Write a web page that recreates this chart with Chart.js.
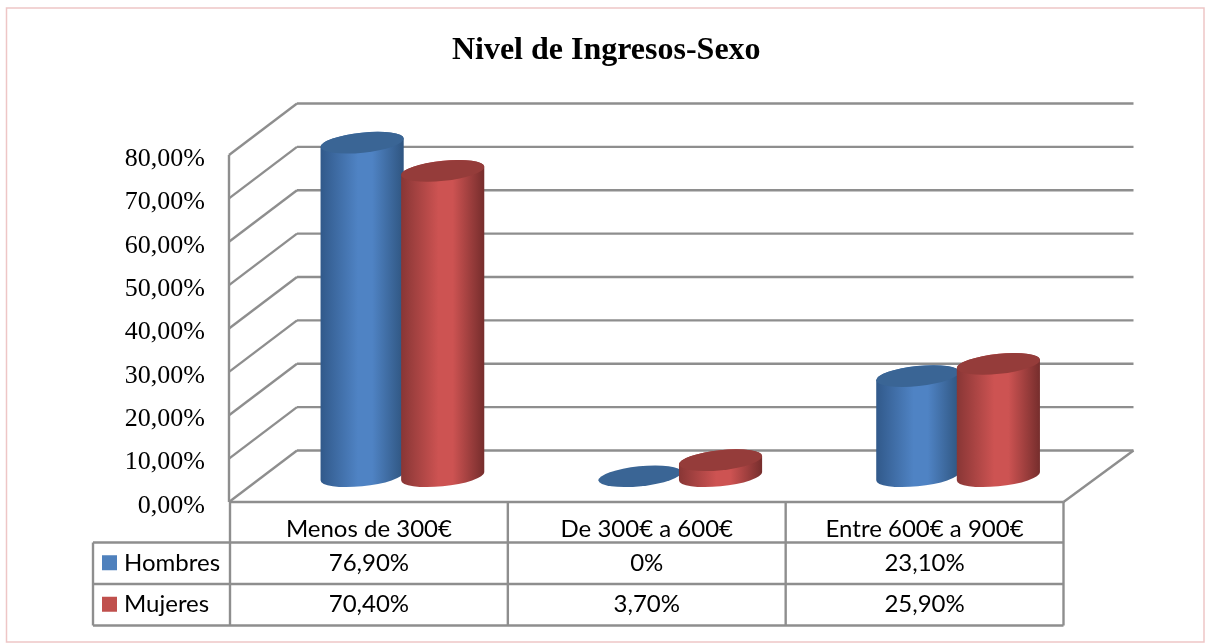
<!DOCTYPE html>
<html lang="es">
<head>
<meta charset="utf-8">
<title>Nivel de Ingresos-Sexo</title>
<script src="https://cdn.jsdelivr.net/npm/chart.js@4/dist/chart.umd.js"></script>
<style>
  html, body { margin: 0; padding: 0; background: #fff; }
  canvas { display: block; }
</style>
</head>
<body>
<canvas id="ingresos" width="1205" height="643"></canvas>
<script>
const categories = ['Menos de 300€', 'De 300€ a 600€', 'Entre 600€ a 900€'];
const hombres = [76.9, 0, 23.1];
const mujeres = [70.4, 3.7, 25.9];
const yTicks = [0, 10, 20, 30, 40, 50, 60, 70, 80];

const serifFont = '"Liberation Serif", serif';
const tableFont = 'Lato, sans-serif';
const gridColor = '#8e8e8e';

// depth of the fake 3d box, cylinders stand halfway in
const depthX = 67;
const depthY = 51.5;

// colours for the cylinders: [edge left, light, edge right, top, legend]
const shades = [
  ['#31598a', '#4f83c4', '#2f5580', '#3a6595', '#4f81bd'],
  ['#883635', '#cd5352', '#752d2c', '#953c3a', '#c0504d'],
];

function percent(v) {
  return v.toFixed(2).replace('.', ',') + '%';
}
function tablePercent(v) {
  return v === 0 ? '0%' : percent(v);
}

function line(ctx, x1, y1, x2, y2) {
  ctx.beginPath();
  ctx.moveTo(x1, y1);
  ctx.lineTo(x2, y2);
  ctx.stroke();
}

function drawCylinder(ctx, cx, top, base, halfW, colors) {
  const ry = 10;
  const rot = -6 * Math.PI / 180;
  // angle where the tilted ellipse touches its left/right extreme
  const t0 = Math.atan2(-ry * Math.sin(rot), halfW * Math.cos(rot));

  if (base - top > 0.5) {
    const grad = ctx.createLinearGradient(cx - halfW, 0, cx + halfW, 0);
    grad.addColorStop(0, colors[0]);
    grad.addColorStop(0.45, colors[1]);
    grad.addColorStop(0.62, colors[1]);
    grad.addColorStop(1, colors[2]);
    ctx.fillStyle = grad;
    ctx.beginPath();
    ctx.ellipse(cx, base, halfW, ry, rot, t0, t0 + Math.PI, false);
    ctx.ellipse(cx, top, halfW, ry, rot, t0 + Math.PI, t0 + 2 * Math.PI, false);
    ctx.closePath();
    ctx.fill();
  }
  ctx.fillStyle = colors[3];
  ctx.beginPath();
  ctx.ellipse(cx, top, halfW, ry, rot, 0, 2 * Math.PI);
  ctx.fill();
}

const boxPlugin = {
  id: 'box',
  afterLayout(chart) {
    // the y labels need a wide scale, keep the title centred on the card anyway
    chart.titleBlock.left += 30;
  },
  beforeDraw(chart) {
    const ctx = chart.ctx;
    ctx.save();
    ctx.strokeStyle = '#eec6c6';
    ctx.lineWidth = 1.5;
    ctx.strokeRect(6.5, 8, 1197.5, 634);
    ctx.restore();
  },
  beforeDatasetsDraw(chart) {
    const ctx = chart.ctx;
    const area = chart.chartArea;
    const y = chart.scales.y;
    ctx.save();
    ctx.strokeStyle = gridColor;
    ctx.lineWidth = 2.4;
    yTicks.forEach(t => {
      const py = y.getPixelForValue(t);
      line(ctx, area.left - 1, py, area.left + depthX, py - depthY);
      line(ctx, area.left + depthX, py - depthY, area.right + depthX + 3, py - depthY);
    });
    line(ctx, area.left - 1, y.getPixelForValue(80), area.left - 1, area.bottom);
    line(ctx, area.right, area.bottom, area.right + depthX + 3, area.bottom - depthY);
    ctx.restore();
  },
  afterDatasetsDraw(chart) {
    const ctx = chart.ctx;
    ctx.save();
    chart.data.datasets.forEach((ds, i) => {
      chart.getDatasetMeta(i).data.forEach(bar => {
        drawCylinder(ctx, bar.x + depthX / 2, bar.y - depthY / 2, bar.base - depthY / 2, bar.width / 2 + 1.5, shades[i]);
      });
    });
    ctx.restore();
  },
  afterDraw(chart) {
    const ctx = chart.ctx;
    const area = chart.chartArea;
    const x = chart.scales.x;
    const rows = [542.5, 584, 625.5];
    const tableLeft = 93;

    ctx.save();
    ctx.strokeStyle = gridColor;
    ctx.lineWidth = 2.4;
    line(ctx, area.left, area.bottom, area.right, area.bottom);
    rows.forEach(r => line(ctx, tableLeft, r, area.right, r));
    line(ctx, tableLeft, rows[0], tableLeft, rows[2]);
    const cols = [area.left];
    categories.forEach((c, i) => cols.push(x.getPixelForValue(i) + (area.right - area.left) / categories.length / 2));
    cols.forEach(c => line(ctx, c, area.bottom, c, rows[2]));

    ctx.font = '24px ' + tableFont;
    ctx.textBaseline = 'middle';
    chart.data.datasets.forEach((ds, i) => {
      const rowMid = (rows[i] + rows[i + 1]) / 2;
      ctx.fillStyle = shades[i][4];
      ctx.fillRect(102, rowMid - 8, 15, 15);
      ctx.fillStyle = '#000';
      ctx.textAlign = 'left';
      ctx.fillText(ds.label, 124, rowMid);
      ctx.textAlign = 'center';
      ds.data.forEach((v, j) => ctx.fillText(tablePercent(v), x.getPixelForValue(j), rowMid));
    });
    ctx.restore();
  },
};

new Chart(document.getElementById('ingresos'), {
  type: 'bar',
  data: {
    labels: categories,
    datasets: [
      { label: 'Hombres', data: hombres, backgroundColor: 'transparent' },
      { label: 'Mujeres', data: mujeres, backgroundColor: 'transparent' },
    ],
  },
  plugins: [boxPlugin],
  options: {
    responsive: false,
    animation: false,
    categoryPercentage: 0.58,
    barPercentage: 1,
    layout: { padding: { left: 119, right: 141.5, top: 0, bottom: 0 } },
    plugins: {
      legend: { display: false },
      tooltip: { enabled: false },
      title: {
        display: true,
        text: 'Nivel de Ingresos-Sexo',
        color: '#000',
        font: { family: serifFont, size: 32, weight: 'bold' },
        padding: { top: 31.8, bottom: 84.8 },
      },
    },
    scales: {
      x: {
        afterFit(scale) { scale.height = 141; },
        grid: { display: false, drawTicks: false },
        border: { display: false },
        ticks: {
          color: '#000',
          font: { family: tableFont, size: 24 },
          padding: 13,
          maxRotation: 0,
          autoSkip: false,
        },
      },
      y: {
        min: 0,
        max: 80,
        afterFit(scale) { scale.width = 111; },
        grid: { display: false, drawTicks: false },
        border: { display: false },
        ticks: {
          stepSize: 10,
          color: '#000',
          font: { family: serifFont, size: 26 },
          padding: 25,
          labelOffset: 4,
          callback: v => percent(v),
        },
      },
    },
  },
});
</script>
</body>
</html>
